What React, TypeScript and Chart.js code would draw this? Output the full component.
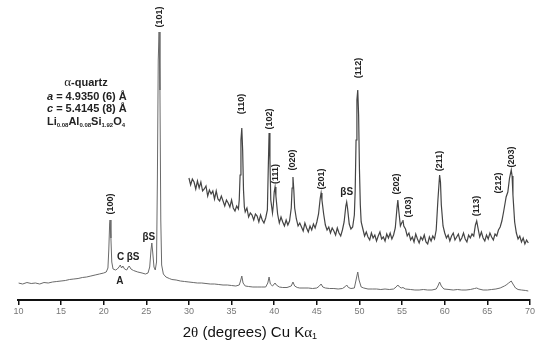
import { useEffect, useRef } from 'react';
import { Chart, registerables } from 'chart.js';

Chart.register(...registerables);

// Full diffractogram: [2θ (deg), intensity (a.u.)]
const mainTrace: [number, number][] = [
  [10.0, 17], [10.5, 16], [11.0, 17.5], [11.5, 16.5], [12.0, 17], [12.5, 16], [13.0, 17.5], [13.5, 17],
  [14.0, 18], [14.5, 18.5], [15.0, 19], [15.5, 19.5], [16.0, 20.5], [16.5, 21], [17.0, 21.5], [17.5, 22.5],
  [18.0, 23], [18.5, 24], [19.0, 25], [19.5, 26], [20.0, 27], [20.3, 28], [20.5, 32], [20.6, 50],
  [20.7, 76], [20.75, 80], [20.85, 62], [20.95, 38], [21.1, 31], [21.4, 30], [21.6, 31], [21.8, 33],
  [21.95, 35], [22.1, 32], [22.25, 34], [22.45, 31], [22.7, 30], [22.9, 33], [23.0, 34], [23.2, 31],
  [23.5, 29.5], [24.0, 28], [24.5, 27], [24.9, 26], [25.2, 27], [25.4, 33], [25.55, 50], [25.65, 57],
  [25.75, 48], [25.9, 33], [26.05, 30], [26.2, 38], [26.3, 120], [26.4, 240], [26.5, 268], [26.6, 210],
  [26.7, 80], [26.8, 35], [27.0, 26], [27.3, 23], [27.7, 21.5], [28.0, 20.5], [28.5, 20], [29.0, 19],
  [29.5, 18.5], [30.0, 18], [30.5, 17.5], [31.0, 17], [31.5, 17], [32.0, 16.5], [32.5, 16], [33.0, 16],
  [33.5, 15.5], [34.0, 15], [34.5, 15], [35.0, 14.5], [35.5, 14], [35.9, 15], [36.05, 19], [36.2, 24],
  [36.35, 17], [36.6, 14], [37.0, 13.5], [37.5, 13], [38.0, 13], [38.5, 13], [39.0, 13], [39.25, 17],
  [39.4, 23], [39.55, 16], [39.8, 14], [40.0, 16], [40.1, 17], [40.25, 15], [40.6, 13], [41.0, 12.5],
  [41.5, 12.5], [42.0, 14], [42.2, 18], [42.4, 14], [42.7, 12.5], [43.0, 12], [43.5, 12], [44.0, 12],
  [44.5, 11.5], [45.0, 12], [45.3, 14], [45.5, 16], [45.7, 13], [46.0, 12], [46.5, 11.5], [47.0, 11.5],
  [47.5, 11], [48.0, 11.5], [48.35, 13.5], [48.5, 15], [48.7, 12.5], [49.0, 11.5], [49.4, 12], [49.6, 20],
  [49.8, 28], [49.95, 20], [50.2, 13], [50.5, 12], [51.0, 11], [51.5, 11], [52.0, 11], [52.5, 10.5],
  [53.0, 11], [53.5, 10.5], [54.0, 11], [54.3, 13], [54.5, 15], [54.7, 13], [54.9, 12], [55.1, 12.5],
  [55.4, 11], [56.0, 10.5], [56.5, 10], [57.0, 10], [57.5, 10.5], [58.0, 10], [58.5, 10], [59.0, 11],
  [59.2, 14], [59.4, 18], [59.6, 14], [59.9, 11], [60.5, 10.5], [61.0, 10], [61.5, 10.5], [62.0, 10],
  [62.5, 10], [63.0, 10.5], [63.5, 11.5], [63.75, 12], [64.0, 11], [64.5, 10], [65.0, 10], [65.5, 10.5],
  [66.0, 11], [66.5, 12], [67.0, 14], [67.2, 15], [67.5, 17], [67.8, 19], [68.0, 16], [68.3, 12],
  [68.6, 10.5], [69.0, 10], [69.5, 9.5], [69.8, 9],
];

// Magnified, offset trace 30–70°: [2θ (deg), intensity (a.u.)]
const insetTrace: [number, number][] = [
  [30.0, 122], [30.2, 115], [30.4, 121], [30.6, 118], [30.8, 111], [31.0, 119], [31.2, 112], [31.4, 118],
  [31.6, 109], [31.8, 111], [32.0, 114], [32.2, 104], [32.4, 110], [32.6, 106], [32.8, 109], [33.0, 101],
  [33.2, 109], [33.4, 101], [33.6, 99], [33.8, 104], [34.0, 99], [34.2, 94], [34.4, 100], [34.6, 97],
  [34.8, 93], [35.0, 100], [35.2, 92], [35.4, 89], [35.6, 94], [35.8, 91], [35.9, 100], [36.0, 125],
  [36.1, 160], [36.2, 172], [36.3, 150], [36.4, 110], [36.5, 93], [36.6, 88], [36.8, 92], [37.0, 83],
  [37.2, 87], [37.4, 85], [37.6, 80], [37.8, 86], [38.0, 84], [38.2, 78], [38.4, 85], [38.6, 80],
  [38.8, 77], [39.0, 82], [39.2, 90], [39.3, 130], [39.4, 167], [39.5, 140], [39.6, 100], [39.8, 87],
  [39.9, 95], [40.0, 108], [40.1, 113], [40.2, 104], [40.4, 86], [40.6, 77], [40.8, 83], [41.0, 78],
  [41.2, 74], [41.4, 80], [41.6, 75], [41.8, 79], [42.0, 92], [42.1, 112], [42.2, 123], [42.3, 110],
  [42.4, 92], [42.6, 81], [42.8, 74], [43.0, 77], [43.2, 73], [43.4, 69], [43.6, 77], [43.8, 72],
  [44.0, 68], [44.2, 74], [44.4, 70], [44.6, 76], [44.8, 72], [45.0, 78], [45.2, 86], [45.4, 102],
  [45.5, 107], [45.6, 100], [45.8, 86], [46.0, 75], [46.2, 70], [46.4, 73], [46.6, 67], [46.8, 72],
  [47.0, 69], [47.2, 65], [47.4, 72], [47.6, 67], [47.8, 64], [48.0, 70], [48.2, 78], [48.4, 94],
  [48.5, 98], [48.6, 92], [48.8, 76], [49.0, 71], [49.2, 73], [49.4, 85], [49.5, 110], [49.6, 160],
  [49.7, 200], [49.8, 210], [49.9, 185], [50.0, 130], [50.1, 95], [50.2, 78], [50.4, 71], [50.6, 64],
  [50.8, 68], [51.0, 63], [51.2, 60], [51.4, 67], [51.6, 62], [51.8, 65], [52.0, 59], [52.2, 64],
  [52.4, 68], [52.6, 61], [52.8, 63], [53.0, 59], [53.2, 66], [53.4, 62], [53.6, 67], [53.8, 61],
  [54.0, 65], [54.2, 72], [54.4, 92], [54.5, 100], [54.6, 90], [54.8, 74], [55.0, 78], [55.1, 80],
  [55.2, 74], [55.4, 71], [55.6, 64], [55.8, 67], [56.0, 60], [56.2, 63], [56.4, 58], [56.6, 66],
  [56.8, 61], [57.0, 57], [57.2, 63], [57.4, 60], [57.6, 65], [57.8, 58], [58.0, 56], [58.2, 63],
  [58.4, 59], [58.6, 64], [58.8, 61], [59.0, 70], [59.2, 100], [59.4, 125], [59.5, 118], [59.6, 95],
  [59.8, 74], [60.0, 67], [60.2, 62], [60.4, 65], [60.6, 59], [60.8, 64], [61.0, 67], [61.2, 60],
  [61.4, 63], [61.6, 66], [61.8, 59], [62.0, 62], [62.2, 67], [62.4, 61], [62.6, 58], [62.8, 65],
  [63.0, 62], [63.2, 66], [63.4, 64], [63.6, 75], [63.75, 79], [63.9, 72], [64.1, 63], [64.3, 68],
  [64.5, 62], [64.7, 59], [64.9, 65], [65.1, 61], [65.3, 67], [65.5, 63], [65.7, 60], [65.9, 66],
  [66.1, 64], [66.3, 70], [66.5, 73], [66.7, 79], [66.9, 88], [67.1, 98], [67.2, 103], [67.4, 108],
  [67.6, 122], [67.8, 130], [67.9, 124], [68.0, 105], [68.2, 78], [68.4, 67], [68.6, 61], [68.8, 64],
  [69.0, 58], [69.2, 62], [69.4, 56], [69.6, 60], [69.8, 57],
];

// Miller index labels (rotated), placed at [2θ, intensity of label centre]
const millerLabels = ['(100)', '(101)', '(110)', '(102)', '(111)', '(020)', '(201)', '(112)', '(202)', '(103)', '(211)', '(113)', '(212)', '(203)'];
const millerAngles = [20.75, 26.5, 36.2, 39.4, 40.2, 42.2, 45.5, 49.85, 54.4, 55.8, 59.4, 63.75, 66.35, 67.8];
const millerHeights = [96, 283, 196, 181, 126, 140, 121, 232, 116, 93, 139, 94, 117, 143];

// Phase labels (horizontal)
const phaseLabels = ['C', 'βS', 'A', 'βS', 'βS'];
const phaseAngles = [22.0, 23.45, 21.9, 25.3, 48.5];
const phaseHeights = [43, 43, 19, 63, 108];

const xTickValues = [10, 15, 20, 25, 30, 35, 40, 45, 50, 55, 60, 65, 70];

const SANS = "'Liberation Sans', Arial, Helvetica, sans-serif";
const SERIF = "'Liberation Serif', 'Times New Roman', serif";

type Run = { text: string; font: string; dy?: number };

function drawRuns(ctx: CanvasRenderingContext2D, runs: Run[], x: number, y: number, align: 'left' | 'center') {
  let total = 0;
  runs.forEach((r) => {
    ctx.font = r.font;
    total += ctx.measureText(r.text).width;
  });
  let cx = align === 'center' ? x - total / 2 : x;
  ctx.textAlign = 'left';
  ctx.textBaseline = 'middle';
  runs.forEach((r) => {
    ctx.font = r.font;
    ctx.fillText(r.text, cx, y + (r.dy || 0));
    cx += ctx.measureText(r.text).width;
  });
}

const annotationPlugin = {
  id: 'xrdAnnotations',
  afterDatasetsDraw(chart: any) {
    const ctx: CanvasRenderingContext2D = chart.ctx;
    const xs = chart.scales.x;
    const ys = chart.scales.y;
    ctx.save();
    ctx.fillStyle = '#222';

    // Rotated Miller indices
    ctx.font = `bold 9px ${SANS}`;
    millerLabels.forEach((t, i) => {
      const px = xs.getPixelForValue(millerAngles[i]);
      const py = ys.getPixelForValue(millerHeights[i]);
      ctx.save();
      ctx.translate(px, py);
      ctx.rotate(-Math.PI / 2);
      ctx.textAlign = 'center';
      ctx.textBaseline = 'middle';
      ctx.fillText(t, 0, 0);
      ctx.restore();
    });

    // Phase labels
    ctx.font = `bold 10px ${SANS}`;
    ctx.textAlign = 'center';
    ctx.textBaseline = 'middle';
    phaseLabels.forEach((t, i) => {
      ctx.fillText(t, xs.getPixelForValue(phaseAngles[i]), ys.getPixelForValue(phaseHeights[i]));
    });

    // Lattice parameter block
    const bold = `bold 11px ${SANS}`;
    const boldIt = `italic bold 11px ${SANS}`;
    const sub = `bold 6px ${SANS}`;
    const cxBlock = xs.getPixelForValue(17.93);
    const leftBlock = xs.getPixelForValue(13.35);
    drawRuns(ctx, [{ text: 'α', font: `13px ${SERIF}` }, { text: '-quartz', font: bold }], cxBlock, ys.getPixelForValue(217), 'center');
    drawRuns(ctx, [{ text: 'a', font: boldIt }, { text: ' = 4.9350 (6) Å', font: bold }], leftBlock, ys.getPixelForValue(203), 'left');
    drawRuns(ctx, [{ text: 'c', font: boldIt }, { text: ' = 5.4145 (8) Å', font: bold }], leftBlock, ys.getPixelForValue(191), 'left');
    drawRuns(
      ctx,
      [
        { text: 'Li', font: bold },
        { text: '0.08', font: sub, dy: 3 },
        { text: 'Al', font: bold },
        { text: '0.08', font: sub, dy: 3 },
        { text: 'Si', font: bold },
        { text: '1.92', font: sub, dy: 3 },
        { text: 'O', font: bold },
        { text: '4', font: sub, dy: 3 },
      ],
      leftBlock,
      ys.getPixelForValue(178),
      'left'
    );

    // Axis title
    ctx.fillStyle = '#111';
    drawRuns(
      ctx,
      [
        { text: '2', font: `15px ${SANS}` },
        { text: 'θ', font: `15px ${SERIF}` },
        { text: ' (degrees) Cu K', font: `15px ${SANS}` },
        { text: 'α', font: `15px ${SERIF}` },
        { text: '1', font: `9px ${SANS}`, dy: 4 },
      ],
      xs.getPixelForValue(37.15),
      ys.getPixelForValue(-33),
      'center'
    );
    ctx.restore();
  },
};

export default function App() {
  const canvasRef = useRef<HTMLCanvasElement | null>(null);

  useEffect(() => {
    document.body.style.margin = '0';
    const canvas = canvasRef.current;
    if (!canvas) return;
    const chart = new Chart(canvas, {
      type: 'line',
      data: {
        datasets: [
          {
            label: 'inset',
            data: insetTrace.map(([x, y]) => ({ x, y })),
            borderColor: '#444444',
            borderWidth: 1.2,
            pointRadius: 0,
            tension: 0,
          },
          {
            label: 'full',
            data: mainTrace.map(([x, y]) => ({ x, y })),
            borderColor: '#6a6a6a',
            borderWidth: 1,
            pointRadius: 0,
            tension: 0,
          },
        ],
      },
      options: {
        animation: false,
        responsive: false,
        maintainAspectRatio: false,
        events: [],
        layout: { padding: { left: 18.4, right: 20, top: 0, bottom: 0 } },
        plugins: { legend: { display: false }, tooltip: { enabled: false }, title: { display: false } },
        scales: {
          x: {
            type: 'linear',
            min: 10,
            max: 70,
            afterBuildTicks: (scale: any) => {
              scale.ticks = xTickValues.map((v) => ({ value: v }));
            },
            afterFit: (scale: any) => {
              scale.height = 51;
            },
            ticks: {
              color: '#777',
              font: { family: SANS, size: 9 },
              padding: 1,
              maxRotation: 0,
              autoSkip: false,
            },
            grid: {
              drawOnChartArea: false,
              drawTicks: true,
              tickLength: 5,
              color: '#111',
              lineWidth: 1.5,
            },
            border: { display: true, color: '#111', width: 2 },
          },
          y: {
            type: 'linear',
            display: false,
            min: 0,
            max: 300,
          },
        },
      },
      plugins: [annotationPlugin],
    });
    return () => chart.destroy();
  }, []);

  return (
    <div style={{ position: 'absolute', left: 0, top: 0, width: 550, height: 351, background: '#fff' }}>
      <canvas ref={canvasRef} width={550} height={351} />
    </div>
  );
}
